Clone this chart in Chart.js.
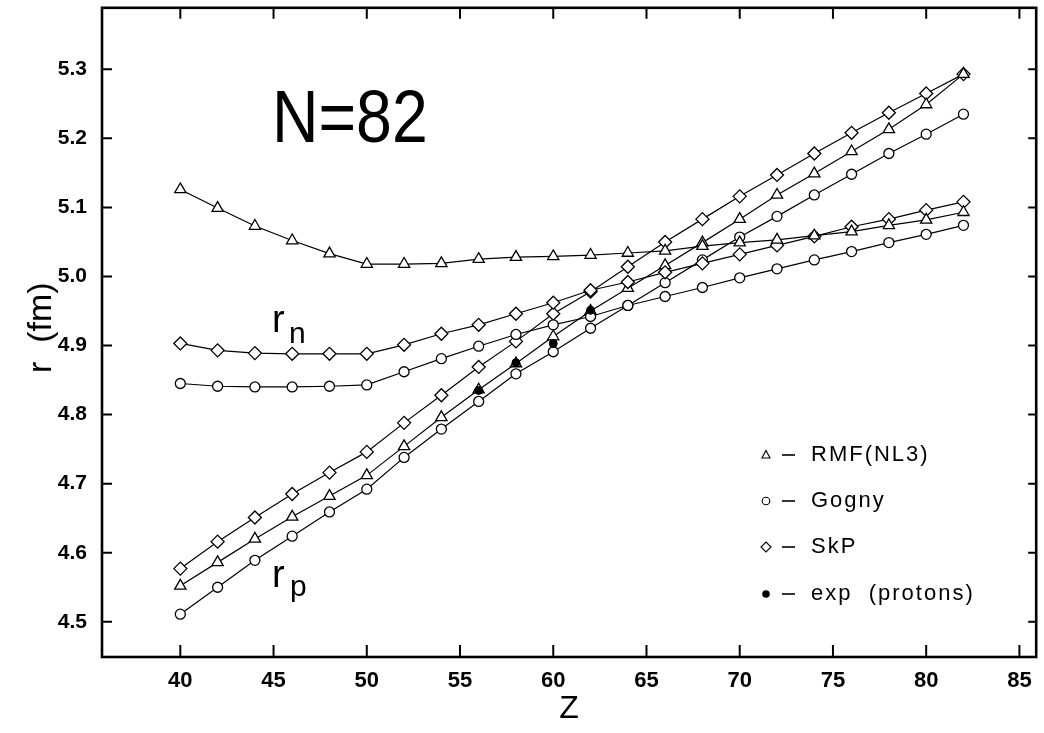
<!DOCTYPE html>
<html>
<head>
<meta charset="utf-8">
<script src="https://cdn.jsdelivr.net/npm/chart.js@4.4.1/dist/chart.umd.min.js"></script>
<style>
html, body { margin: 0; padding: 0; background: #fff; }
#wrap { width: 1044px; height: 733px; position: relative; }
</style>
</head>
<body>
<div id="wrap"><canvas id="radiiChart"></canvas></div>
<script>

// proton number Z for the N=82 chain
const zValues = [40, 42, 44, 46, 48, 50, 52, 54, 56, 58, 60, 62, 64, 66, 68, 70, 72, 74, 76, 78, 80, 82];

// neutron radii r_n (fm)
const rnRMF   = [5.126, 5.099, 5.073, 5.052, 5.033, 5.018, 5.018, 5.019, 5.025, 5.028, 5.029, 5.031, 5.034, 5.037, 5.044, 5.049, 5.053, 5.059, 5.065, 5.074, 5.082, 5.093];
const rnGogny = [4.845, 4.841, 4.840, 4.840, 4.841, 4.843, 4.862, 4.881, 4.899, 4.916, 4.930, 4.942, 4.958, 4.971, 4.984, 4.998, 5.011, 5.024, 5.036, 5.049, 5.061, 5.074];
const rnSkP   = [4.903, 4.893, 4.889, 4.888, 4.888, 4.888, 4.901, 4.917, 4.930, 4.946, 4.962, 4.980, 4.992, 5.006, 5.019, 5.032, 5.045, 5.058, 5.072, 5.083, 5.096, 5.108];

// proton radii r_p (fm)
const rpRMF   = [4.552, 4.586, 4.620, 4.652, 4.682, 4.712, 4.754, 4.796, 4.836, 4.874, 4.913, 4.950, 4.983, 5.016, 5.049, 5.083, 5.118, 5.149, 5.181, 5.213, 5.249, 5.293];
const rpGogny = [4.511, 4.550, 4.589, 4.624, 4.659, 4.692, 4.738, 4.779, 4.819, 4.859, 4.891, 4.925, 4.958, 4.991, 5.024, 5.057, 5.087, 5.118, 5.148, 5.178, 5.206, 5.235];
const rpSkP   = [4.577, 4.616, 4.651, 4.685, 4.716, 4.746, 4.788, 4.828, 4.869, 4.906, 4.946, 4.978, 5.014, 5.050, 5.083, 5.116, 5.147, 5.178, 5.208, 5.237, 5.265, 5.293];

// experimental proton radii
const expZ  = [56, 58, 60, 62];
const expRp = [4.835, 4.875, 4.903, 4.951];

const xTicks = [40, 45, 50, 55, 60, 65, 70, 75, 80, 85];
const yTicks = [4.5, 4.6, 4.7, 4.8, 4.9, 5.0, 5.1, 5.2, 5.3];

const legendLabels = ["RMF(NL3)", "Gogny", "SkP", "exp  (protons)"];
const legendStyles = ["triangle", "circle", "rectRot", "dot"];

function toPoints(xs, ys){
    return xs.map((x, i) => ({ x: x, y: ys[i] }));
}

function curve(values, style){
    return {
        data: toPoints(zValues, values),
        showLine: true,
        borderColor: "#000",
        borderWidth: 1.2,
        pointStyle: style,
        pointRadius: style === "circle" ? 5 : 6.5,
        pointBackgroundColor: "#fff",
        pointBorderColor: "#000",
        pointBorderWidth: 1.3
    };
}

function drawSymbol(ctx, style, x, y){
    ctx.beginPath();
    if (style === "triangle") {
        ctx.moveTo(x, y - 4.5);
        ctx.lineTo(x + 4, y + 3);
        ctx.lineTo(x - 4, y + 3);
        ctx.closePath();
    } else if (style === "circle") {
        ctx.arc(x, y, 3.8, 0, Math.PI * 2);
    } else if (style === "rectRot") {
        ctx.moveTo(x, y - 5);
        ctx.lineTo(x + 5, y);
        ctx.lineTo(x, y + 5);
        ctx.lineTo(x - 5, y);
        ctx.closePath();
    } else {
        ctx.arc(x, y, 3.8, 0, Math.PI * 2);
        ctx.fillStyle = "#000";
        ctx.fill();
        return;
    }
    ctx.fillStyle = "#fff";
    ctx.fill();
    ctx.stroke();
}

function noEdgePadding(scale){
    scale.paddingTop = 0;
    scale.paddingBottom = 0;
    scale.paddingLeft = 0;
    scale.paddingRight = 0;
}

// frame on four sides with inward tick marks
const framePlugin = {
    id: "frame",
    afterDraw(chart){
        const { ctx, chartArea: a, scales } = chart;
        ctx.save();
        ctx.strokeStyle = "#000";
        ctx.lineWidth = 2.6;
        ctx.strokeRect(a.left, a.top, a.right - a.left, a.bottom - a.top);
        ctx.lineWidth = 2;
        ctx.beginPath();
        scales.x.ticks.forEach(t => {
            const px = scales.x.getPixelForValue(t.value);
            ctx.moveTo(px, a.bottom);
            ctx.lineTo(px, a.bottom - 12);
            ctx.moveTo(px, a.top);
            ctx.lineTo(px, a.top + 11);
        });
        scales.y.ticks.forEach(t => {
            const py = scales.y.getPixelForValue(t.value);
            ctx.moveTo(a.left, py);
            ctx.lineTo(a.left + 10, py);
            ctx.moveTo(a.right, py);
            ctx.lineTo(a.right - 8, py);
        });
        ctx.stroke();
        ctx.restore();
    }
};

// N=82 label, r_n / r_p labels and the legend inside the plot
const notesPlugin = {
    id: "notes",
    afterDatasetsDraw(chart){
        const { ctx } = chart;
        ctx.save();
        ctx.fillStyle = "#000";
        ctx.strokeStyle = "#000";
        ctx.textBaseline = "alphabetic";
        ctx.textAlign = "left";

        ctx.save();
        ctx.translate(272, 142);
        ctx.scale(0.87, 1);
        ctx.font = "74px 'Liberation Sans'";
        ctx.fillText("N=82", 0, 0);
        ctx.restore();

        ctx.font = "38px 'Liberation Sans'";
        ctx.fillText("r", 272, 332);
        ctx.fillText("r", 272, 587);
        ctx.font = "30px 'Liberation Sans'";
        ctx.fillText("n", 289, 343);
        ctx.fillText("p", 290, 596);

        const rowY = [455, 501, 547, 594];
        ctx.font = "22px 'Liberation Sans'";
        ctx.letterSpacing = "2px";
        ctx.textBaseline = "middle";
        legendLabels.forEach((label, i) => {
            ctx.lineWidth = 1.1;
            drawSymbol(ctx, legendStyles[i], 766, rowY[i]);
            ctx.lineWidth = 1.6;
            ctx.beginPath();
            ctx.moveTo(782, rowY[i]);
            ctx.lineTo(795, rowY[i]);
            ctx.stroke();
            ctx.fillStyle = "#000";
            ctx.fillText(label, 811, rowY[i]);
        });
        ctx.restore();
    }
};

const ctx = document.getElementById("radiiChart");

new Chart(ctx, {
    type: "scatter",
    data: {
        datasets: [
            {
                data: toPoints(expZ, expRp),
                showLine: false,
                pointStyle: "circle",
                pointRadius: 4,
                pointBackgroundColor: "#000",
                pointBorderColor: "#000",
                pointBorderWidth: 1
            },
            curve(rnRMF, "triangle"),
            curve(rnGogny, "circle"),
            curve(rnSkP, "rectRot"),
            curve(rpRMF, "triangle"),
            curve(rpGogny, "circle"),
            curve(rpSkP, "rectRot")
        ]
    },
    options: {
        responsive: true,
        maintainAspectRatio: false,
        animation: false,
        layout: {
            padding: { top: 7, right: 0, left: 0, bottom: 0 }
        },
        plugins: {
            legend: { display: false },
            tooltip: { enabled: false }
        },
        scales: {
            x: {
                type: "linear",
                min: 35.8,
                max: 85.9,
                afterBuildTicks: scale => {
                    scale.ticks = xTicks.map(v => ({ value: v }));
                },
                afterFit: scale => {
                    scale.height = 76;
                    noEdgePadding(scale);
                },
                grid: { display: false, drawTicks: false },
                border: { display: false },
                ticks: {
                    padding: 11,
                    color: "#000",
                    font: { size: 22, weight: "bold", family: "'Liberation Sans'" },
                    callback: v => String(v)
                },
                title: {
                    display: true,
                    text: "Z",
                    color: "#000",
                    font: { size: 32, family: "'Liberation Sans'" },
                    padding: { top: 0, bottom: 5 }
                }
            },
            y: {
                type: "linear",
                min: 4.449,
                max: 5.389,
                afterBuildTicks: scale => {
                    scale.ticks = yTicks.map(v => ({ value: v }));
                },
                afterFit: scale => {
                    scale.width = 102;
                    noEdgePadding(scale);
                },
                grid: { display: false, drawTicks: false },
                border: { display: false },
                ticks: {
                    padding: 15,
                    color: "#000",
                    font: { size: 21, weight: "bold", family: "'Liberation Sans'" },
                    callback: v => v.toFixed(1)
                },
                title: {
                    display: true,
                    text: " r  (fm)",
                    color: "#000",
                    font: { size: 34, family: "'Liberation Sans'" },
                    padding: { top: 21, bottom: 0 }
                }
            }
        }
    },
    plugins: [framePlugin, notesPlugin]
});

</script>
</body>
</html>
